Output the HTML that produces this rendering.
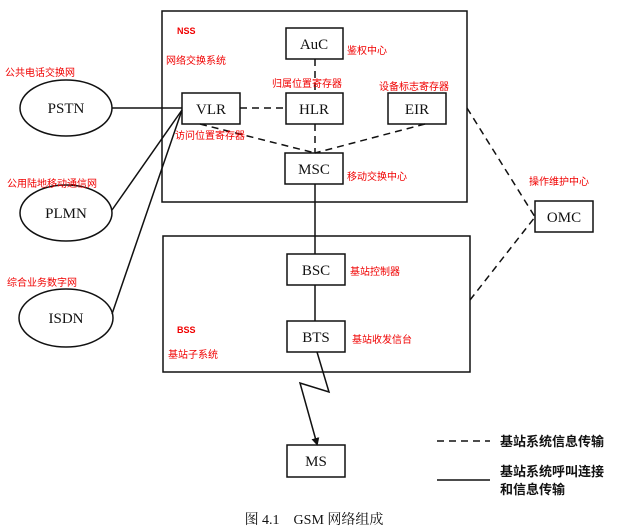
<!DOCTYPE html>
<html><head><meta charset="utf-8"><style>
body{margin:0;background:#fff}
svg{display:block}
.b{font-family:"Liberation Serif","Noto Serif CJK SC",serif;font-size:15px;fill:#111}
.r{font-family:"Liberation Sans","Noto Sans CJK SC",sans-serif;font-size:10px;fill:#f00000}
.k{font-family:"Liberation Sans","Noto Sans CJK SC",sans-serif;font-size:13px;fill:#111;font-weight:bold}
</style></head><body>
<svg width="629" height="531" viewBox="0 0 629 531" xmlns="http://www.w3.org/2000/svg">
<defs><marker id="a" markerWidth="8" markerHeight="8" refX="6" refY="4" orient="auto" markerUnits="userSpaceOnUse"><path d="M0,0 L8,4 L0,8 z" fill="#111"/></marker></defs>
<g fill="none" stroke="#111" stroke-width="1.5">
<rect x="162" y="11" width="305" height="191"/>
<rect x="163" y="236" width="307" height="136"/>
<ellipse cx="66" cy="108" rx="46" ry="28"/>
<ellipse cx="66" cy="213" rx="46" ry="28"/>
<ellipse cx="66" cy="318" rx="47" ry="29"/>
<rect x="286" y="28" width="57" height="31" fill="#fff"/>
<rect x="286" y="93" width="57" height="31" fill="#fff"/>
<rect x="388" y="93" width="58" height="31" fill="#fff"/>
<rect x="285" y="153" width="58" height="31" fill="#fff"/>
<rect x="182" y="93" width="58" height="31" fill="#fff"/>
<rect x="535" y="201" width="58" height="31" fill="#fff"/>
<rect x="287" y="254" width="58" height="31" fill="#fff"/>
<rect x="287" y="321" width="58" height="31" fill="#fff"/>
<rect x="287" y="445" width="58" height="32" fill="#fff"/>
<line x1="112" y1="108" x2="182" y2="108"/>
<line x1="112" y1="210" x2="182" y2="110"/>
<line x1="112" y1="314" x2="182" y2="110"/>
<line x1="315" y1="184" x2="315" y2="254"/>
<line x1="315" y1="285" x2="315" y2="321"/>
<polyline points="317,352 329,392 300,383 317,444" marker-end="url(#a)"/>
<line x1="437" y1="480" x2="490" y2="480"/>
</g>
<g fill="none" stroke="#111" stroke-width="1.5" stroke-dasharray="7,5">
<line x1="240" y1="108" x2="286" y2="108"/>
<line x1="315" y1="59" x2="315" y2="93"/>
<line x1="315" y1="124" x2="315" y2="153"/>
<line x1="200" y1="124" x2="315" y2="153"/>
<line x1="425" y1="124" x2="315" y2="153"/>
<line x1="467" y1="108" x2="535" y2="217"/>
<line x1="470" y1="300" x2="535" y2="217"/>
<line x1="437" y1="441" x2="490" y2="441"/>
</g>
<g class="b" text-anchor="middle">
<text x="66" y="113">PSTN</text>
<text x="66" y="218">PLMN</text>
<text x="66" y="323">ISDN</text>
<text x="314" y="49">AuC</text>
<text x="314" y="114">HLR</text>
<text x="417" y="114">EIR</text>
<text x="314" y="174">MSC</text>
<text x="211" y="114">VLR</text>
<text x="564" y="222">OMC</text>
<text x="316" y="275">BSC</text>
<text x="316" y="342">BTS</text>
<text x="316" y="466">MS</text>
</g>
<g class="r">
<text x="177" y="34" font-weight="bold" font-size="9">NSS</text>
<text x="166" y="64">网络交换系统</text>
<text x="347" y="54">鉴权中心</text>
<text x="272" y="87">归属位置寄存器</text>
<text x="379" y="90">设备标志寄存器</text>
<text x="175" y="139">访问位置寄存器</text>
<text x="347" y="180">移动交换中心</text>
<text x="529" y="185">操作维护中心</text>
<text x="5" y="76">公共电话交换网</text>
<text x="7" y="187">公用陆地移动通信网</text>
<text x="7" y="286">综合业务数字网</text>
<text x="350" y="275">基站控制器</text>
<text x="352" y="343">基站收发信台</text>
<text x="177" y="333" font-weight="bold" font-size="9">BSS</text>
<text x="168" y="358">基站子系统</text>
</g>
<g class="k">
<text x="500" y="446">基站系统信息传输</text>
<text x="500" y="476">基站系统呼叫连接</text>
<text x="500" y="494">和信息传输</text>
</g>
<text x="314" y="524" text-anchor="middle" font-family="Liberation Serif,Noto Serif CJK SC,serif" font-size="14" fill="#111">图 4.1　GSM 网络组成</text>
</svg>
</body></html>
